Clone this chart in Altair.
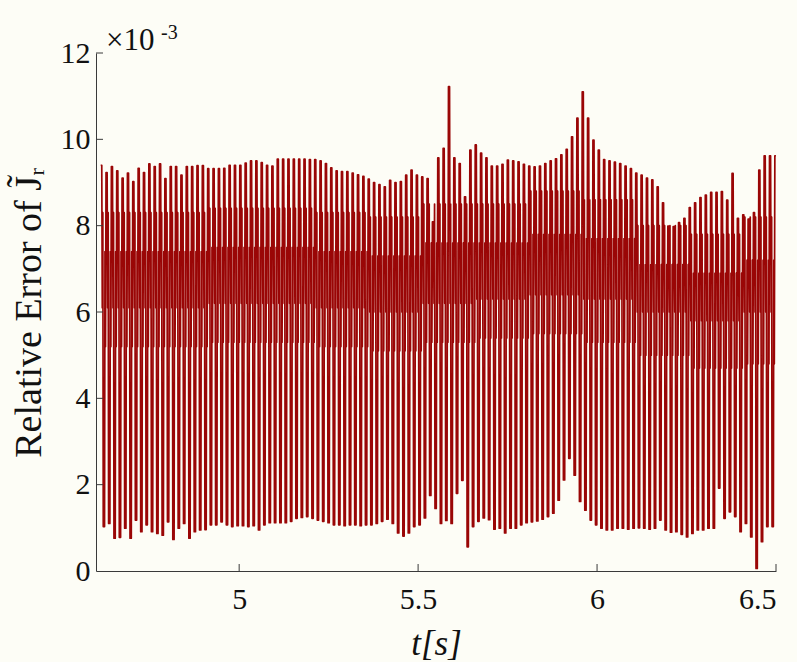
import altair as alt
import pandas as pd

# ---------------- data (values in units of 1e-3) ----------------
T_FIRST = 4.6146      # time of the first oscillation peak [s]
PERIOD = 0.01495

# top of every oscillation bar (one per cycle)
PEAKS = [
    9.40, 9.23, 9.37, 9.27, 9.10, 9.22, 9.02, 9.33, 9.23, 9.43,
    9.37, 9.43, 9.09, 9.37, 9.37, 9.17, 9.37, 9.37, 9.39, 9.39,
    9.32, 9.32, 9.32, 9.33, 9.40, 9.40, 9.40, 9.45, 9.50, 9.50,
    9.46, 9.40, 9.38, 9.54, 9.54, 9.54, 9.54, 9.54, 9.54, 9.53,
    9.53, 9.50, 9.44, 9.34, 9.27, 9.25, 9.25, 9.22, 9.18, 9.14,
    9.08, 9.00, 8.95, 8.90, 9.05, 9.00, 9.02, 9.17, 9.29, 9.17,
    9.13, 9.09, 8.09, 9.57, 9.79, 11.22, 9.57, 9.44, 8.67, 9.75,
    9.87, 9.68, 9.57, 9.38, 9.38, 9.42, 9.52, 9.50, 9.48, 9.42,
    9.38, 9.36, 9.38, 9.44, 9.50, 9.55, 9.64, 9.77, 10.06, 10.49,
    11.10, 10.49, 9.98, 9.75, 9.53, 9.50, 9.47, 9.44, 9.38, 9.32,
    9.22, 9.17, 9.10, 9.06, 8.90, 8.53, 7.99, 7.98, 8.07, 8.17,
    8.42, 8.53, 8.65, 8.71, 8.77, 8.77, 8.79, 8.59, 9.21, 8.17,
    8.25, 8.15, 8.30, 9.29, 9.62, 9.62, 9.62,
]

# bottom of every oscillation bar (one per cycle)
TROUGHS = [
    1.03, 1.10, 0.76, 0.78, 0.99, 0.76, 1.18, 0.91, 1.07, 0.91,
    0.87, 0.83, 1.14, 0.73, 0.99, 1.10, 0.76, 0.91, 0.95, 0.96,
    1.07, 1.07, 1.14, 1.07, 1.03, 1.05, 1.05, 1.03, 1.05, 0.95,
    1.07, 1.12, 1.12, 1.12, 1.12, 1.15, 1.22, 1.24, 1.26, 1.22,
    1.18, 1.15, 1.12, 1.07, 1.07, 1.05, 1.07, 1.07, 1.05, 1.07,
    1.07, 1.10, 1.15, 1.20, 1.10, 0.88, 0.81, 0.88, 1.03, 1.07,
    1.23, 1.75, 1.45, 1.10, 1.17, 1.10, 1.80, 2.10, 0.56, 1.03,
    1.15, 1.23, 1.19, 0.97, 0.99, 0.88, 0.99, 0.99, 1.07, 1.12,
    1.14, 1.16, 1.20, 1.26, 1.34, 1.64, 2.11, 2.61, 2.22, 1.61,
    1.41, 1.18, 1.07, 0.99, 0.95, 0.95, 0.99, 0.99, 0.97, 0.99,
    1.00, 0.99, 0.97, 0.99, 1.18, 0.95, 0.90, 0.91, 0.85, 0.79,
    0.87, 0.95, 0.95, 0.99, 0.99, 1.92, 1.22, 1.37, 1.26, 0.91,
    1.10, 0.79, 0.06, 0.68, 1.03, 1.03,
]

# levels of the dense inner oscillation band, one value per group of 10 cycles
BAND_GROUP = 10
BAND_A_HI = [8.3, 8.3, 8.4, 8.4, 8.3, 8.2, 8.5, 8.5, 8.8, 8.6, 8.0, 7.8, 8.2]
BAND_A_LO = [6.1, 6.1, 6.2, 6.2, 6.1, 6.0, 6.2, 6.3, 6.4, 6.3, 6.0, 5.8, 6.0]
BAND_B_HI = [7.4, 7.4, 7.5, 7.5, 7.4, 7.3, 7.6, 7.6, 7.8, 7.7, 7.1, 6.9, 7.2]
BAND_B_LO = [5.2, 5.2, 5.3, 5.3, 5.2, 5.1, 5.3, 5.4, 5.5, 5.3, 5.0, 4.7, 4.8]

X_DOMAIN = [4.6, 6.5]
X_TICKS = [5, 5.5, 6, 6.5]
Y_DOMAIN = [0, 12]
Y_TICKS = [2, 4, 6, 8, 10, 12]
Y_LABELS = [0, 2, 4, 6, 8, 10, 12]

# ---------------- build the waveform table ----------------
rows = []
for k, peak in enumerate(PEAKS):
    tk = T_FIRST + k * PERIOD
    g = k // BAND_GROUP
    rows.append((tk - 0.1 * PERIOD, peak))
    rows.append((tk + 0.1 * PERIOD, peak))
    if k < len(TROUGHS):
        tr = TROUGHS[k]
        rows.append((tk + 0.2 * PERIOD, BAND_A_LO[g]))
        rows.append((tk + 0.3 * PERIOD, BAND_A_HI[g]))
        rows.append((tk + 0.38 * PERIOD, tr))
        rows.append((tk + 0.62 * PERIOD, tr))
        rows.append((tk + 0.7 * PERIOD, BAND_B_HI[g]))
        rows.append((tk + 0.8 * PERIOD, BAND_B_LO[g]))

df = pd.DataFrame(rows, columns=["t", "err"])
df["i"] = range(len(df))

W, H = 680, 518
AXC = "#3a3a3a"
SERIF = "'Liberation Serif', 'Times New Roman', Times, 'DejaVu Serif', serif"
LINE_COLOR = "#9a0606"

xscale = alt.Scale(domain=X_DOMAIN, nice=False, zero=False)
yscale = alt.Scale(domain=Y_DOMAIN, nice=False, zero=False)

x_axis = alt.Axis(
    values=X_TICKS, format="~g", title="t[s]", ticks=False,
    labelFont=SERIF, labelFontSize=30, labelColor="#111", labelPadding=13,
    titleFont=SERIF, titleFontSize=35, titleFontStyle="italic", titleFontWeight="normal",
    titleColor="#111", titleY=83, titleBaseline="alphabetic",
    domainColor=AXC, domainWidth=1, grid=False)
y_axis = alt.Axis(
    values=Y_LABELS, format="d", title="Relative Error of J\u0303\u1d63", ticks=False,
    labelFont=SERIF, labelFontSize=30, labelColor="#111", labelPadding=6,
    titleFont=SERIF, titleFontSize=38, titleFontWeight="normal", titleColor="#111",
    titleX=-67, titleBaseline="middle",
    domainColor=AXC, domainWidth=1, grid=False)

line = alt.Chart(df).mark_line(
    color=LINE_COLOR, strokeWidth=1.7, strokeJoin="round", clip=True
).encode(
    x=alt.X("t:Q", scale=xscale, axis=x_axis),
    y=alt.Y("err:Q", scale=yscale, axis=y_axis),
    order="i:Q",
)

xt = alt.Chart(pd.DataFrame({"t": X_TICKS})).mark_rule(color=AXC, strokeWidth=1).encode(
    x=alt.X("t:Q", scale=xscale, axis=x_axis),
    y=alt.value(H), y2=alt.value(H - 7),
)
yt = alt.Chart(pd.DataFrame({"err": Y_TICKS})).mark_rule(color=AXC, strokeWidth=1).encode(
    y=alt.Y("err:Q", scale=yscale, axis=y_axis),
    x=alt.value(0), x2=alt.value(7),
)

mult = alt.Chart(pd.DataFrame({"s": ["\u00d710"]})).mark_text(
    font=SERIF, fontSize=31, align="left", baseline="alphabetic", color="#111"
).encode(text="s:N", x=alt.value(10), y=alt.value(-3))
expo = alt.Chart(pd.DataFrame({"s": ["-3"]})).mark_text(
    font=SERIF, fontSize=20, align="left", baseline="alphabetic", color="#111"
).encode(text="s:N", x=alt.value(65), y=alt.value(-14))

chart = alt.layer(line, xt, yt, mult, expo).properties(
    width=W, height=H,
    autosize=alt.AutoSizeParams(type="none"),
    padding={"left": 96, "top": 53, "right": 21, "bottom": 91},
    background="#fdfdf6",
).configure_view(stroke=None)

chart.save("out.html", embed_options={"renderer": "svg", "actions": False})
